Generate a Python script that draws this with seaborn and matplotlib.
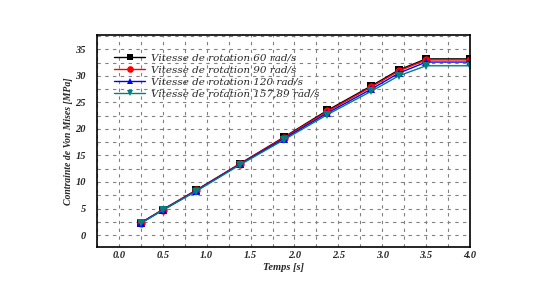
import matplotlib
matplotlib.use("Agg")
import matplotlib.pyplot as plt
import seaborn as sns
import pandas as pd
from matplotlib.ticker import MultipleLocator

temps = [0.25, 0.5, 0.875, 1.375, 1.875, 2.375, 2.875, 3.1875, 3.5, 4.0]
s60 = [2.3, 4.8, 8.4, 13.4, 18.4, 23.5, 28.1, 31.1, 33.2, 33.2]
s90 = [2.3, 4.8, 8.4, 13.4, 18.3, 23.3, 27.9, 30.9, 33.0, 33.0]
s120 = [2.3, 4.7, 8.3, 13.3, 18.1, 23.0, 27.5, 30.5, 32.6, 32.6]
s157 = [2.2, 4.7, 8.2, 13.2, 17.9, 22.7, 27.1, 30.0, 31.9, 31.9]
labels = ["Vitesse de rotation 60 rad/s", "Vitesse de rotation 90 rad/s",
          "Vitesse de rotation 120 rad/s", "Vitesse de rotation 157,89 rad/s"]
xticks = [0.0, 0.5, 1.0, 1.5, 2.0, 2.5, 3.0, 3.5, 4.0]
yticks = [0, 5, 10, 15, 20, 25, 30, 35]

sns.set_style("white")
plt.rcParams['font.family'] = ['Liberation Serif', 'DejaVu Serif']

df = pd.concat([pd.DataFrame({"t": temps, "v": vals, "s": lab})
                for vals, lab in zip([s60, s90, s120, s157], labels)])

fig = plt.figure(figsize=(5.46, 2.99), dpi=100)
ax = fig.add_axes([97/546, 1-247/299, (470-97)/546, (247-35)/299])

colors = ["#000000", "#ff0000", "#0000ff", "#008080"]
markers = ["s", "o", "^", "v"]
sns.lineplot(data=df, x="t", y="v", hue="s", style="s", palette=colors,
             markers=markers, dashes=False, markersize=6, linewidth=1.0,
             markeredgewidth=0, ax=ax)

ax.set_xlim(-0.25, 4.0)
ax.set_ylim(-2.25, 37.7)
ax.set_xticks(xticks)
ax.set_yticks(yticks)
ax.set_xticklabels([f"{v:.1f}" for v in xticks])
ax.set_yticklabels([str(v) for v in yticks])
ax.xaxis.set_minor_locator(MultipleLocator(0.25))
ax.yaxis.set_minor_locator(MultipleLocator(2.5))
ax.grid(True, which="both", color="#808080", linestyle=(0, (3, 4)), linewidth=0.8)
ax.tick_params(which="both", length=0, labelsize=7.5)
ax.tick_params(axis="x", pad=3)
ax.tick_params(axis="y", pad=8)
for lbl in ax.get_xticklabels() + ax.get_yticklabels():
    lbl.set_fontweight("bold")
    lbl.set_fontstyle("italic")
for sp in ax.spines.values():
    sp.set_color("black")
    sp.set_linewidth(1.2)

ax.set_xlabel("Temps [s]", fontsize=7.5, fontweight="bold", fontstyle="italic", labelpad=2)
ax.set_ylabel("Contrainte de Von Mises [MPa]", fontsize=7, fontweight="bold",
              fontstyle="italic", labelpad=2)

leg = ax.legend(loc="upper left", bbox_to_anchor=(0.035, 0.935), frameon=False,
                prop={"family": "DejaVu Serif", "style": "italic", "size": 7.5},
                handlelength=3.0, labelspacing=0.28, borderaxespad=0,
                handletextpad=0.5, markerscale=0.8)

fig.savefig("out.png", dpi=100)
